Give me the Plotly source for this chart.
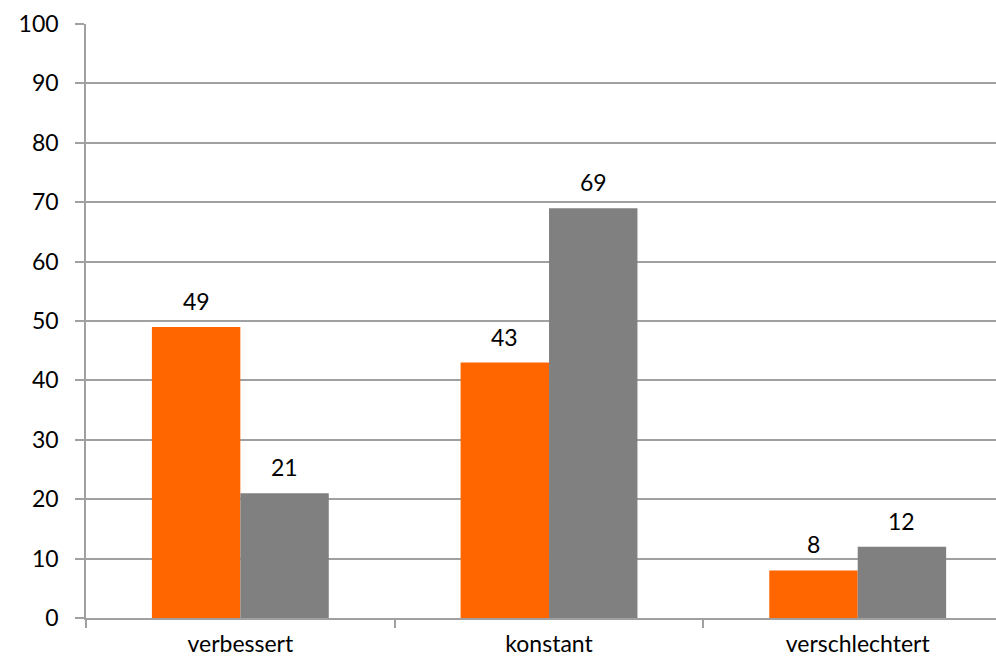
import plotly.graph_objects as go

categories = ["verbessert", "konstant", "verschlechtert"]
series_orange = [49, 43, 8]
series_gray = [21, 69, 12]
y_ticks = [0, 10, 20, 30, 40, 50, 60, 70, 80, 90, 100]

ORANGE = "#FF6600"
GRAY = "#808080"
FONT = "Lato, 'Open Sans', sans-serif"

fig = go.Figure()
fig.add_trace(go.Bar(x=categories, y=series_orange, marker=dict(color=ORANGE, line=dict(width=0)),
                     name="A", showlegend=False))
fig.add_trace(go.Bar(x=categories, y=series_gray, marker=dict(color=GRAY, line=dict(width=0)),
                     name="B", showlegend=False))

# value labels above each bar
offsets = [-0.143, 0.143]
for off, vals in zip(offsets, [series_orange, series_gray]):
    for i, v in enumerate(vals):
        fig.add_annotation(x=i + off, y=v, text=str(v), showarrow=False,
                           yanchor="bottom", yshift=10, xref="x", yref="y",
                           font=dict(family=FONT, size=23, color="#000000"))

fig.update_layout(
    width=996, height=662,
    margin=dict(l=86, r=0, t=24, b=44),
    paper_bgcolor="white", plot_bgcolor="white",
    barmode="group", bargap=0.427, bargroupgap=0,
    font=dict(family=FONT, size=23, color="#000000"),
)
fig.update_xaxes(
    type="category", range=[-0.5, 2.448], automargin=False,
    tickson="boundaries", ticks="outside", ticklen=8, tickcolor="#A0A0A0", tickwidth=1.5,
    showline=True, linecolor="#A0A0A0", linewidth=1.5,
    showgrid=False, tickfont=dict(size=23, family=FONT), ticklabelstandoff=5,
)
fig.update_yaxes(
    range=[0, 100], tickvals=y_ticks, ticks="outside", ticklen=9, tickcolor="#A0A0A0", tickwidth=1.5,
    showgrid=True, gridcolor="#A0A0A0", gridwidth=1.5, automargin=False,
    showline=True, linecolor="#A0A0A0", linewidth=1.5, zeroline=False,
    tickfont=dict(size=23, family=FONT), ticklabelstandoff=12,
)

fig.write_html("out.html")
